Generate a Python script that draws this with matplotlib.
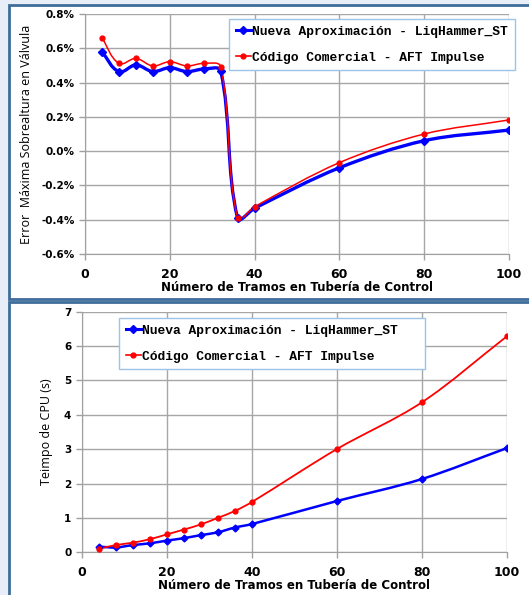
import numpy as np
import matplotlib
matplotlib.use('Agg')
import matplotlib.pyplot as plt
from matplotlib.path import Path
from matplotlib.patches import PathPatch, Rectangle
from matplotlib.lines import Line2D

# error chart data
tramos_err = [4, 8, 12, 16, 20, 24, 28, 32, 36, 40, 60, 80, 100]
err_liq = [0.58, 0.464, 0.503, 0.464, 0.487, 0.464, 0.479, 0.468, -0.392, -0.333, -0.097, 0.061, 0.123]
err_aft = [0.662, 0.512, 0.541, 0.497, 0.522, 0.497, 0.512, 0.493, -0.392, -0.324, -0.067, 0.10, 0.182]

# cpu time data
tramos_cpu = [4, 8, 12, 16, 20, 24, 28, 32, 36, 40, 60, 80, 100]
cpu_liq = [0.165, 0.14, 0.21, 0.26, 0.34, 0.41, 0.50, 0.58, 0.72, 0.82, 1.49, 2.13, 3.03]
cpu_aft = [0.10, 0.21, 0.28, 0.38, 0.52, 0.66, 0.81, 1.00, 1.20, 1.46, 3.00, 4.36, 6.28]

label_liq = 'Nueva Aproximación - LiqHammer_ST'
label_aft = 'Código Comercial - AFT Impulse'

W, H = 529, 595
fig = plt.figure(figsize=(W / 100, H / 100), dpi=100)
fig.patch.set_facecolor('#e8eef7')

border = '#3f6d9b'
# panels (white with blue border)
fig.add_artist(Rectangle((9 / W, 1 - 299 / H), 600 / W, 294 / H, transform=fig.transFigure,
                         facecolor='white', edgecolor=border, lw=2.0, zorder=0))
fig.add_artist(Rectangle((9 / W, 1 - 640 / H), 600 / W, 338 / H, transform=fig.transFigure,
                         facecolor='white', edgecolor=border, lw=2.0, zorder=0))


def smooth_path(ax, x, y, k=0.33):
    # excel-like smoothed line, worked out in screen space then back to data
    pts = ax.transData.transform(np.column_stack([x, y]))
    n = len(pts)
    verts = [pts[0]]
    codes = [Path.MOVETO]
    for i in range(n - 1):
        p0 = pts[i - 1] if i > 0 else pts[i]
        p1 = pts[i]
        p2 = pts[i + 1]
        p3 = pts[i + 2] if i + 2 < n else pts[i + 1]
        L = np.hypot(*(p2 - p1))
        d1 = (p2 - p0) / np.hypot(*(p2 - p0))
        d2 = (p3 - p1) / np.hypot(*(p3 - p1))
        c1 = p1 + d1 * L * k
        c2 = p2 - d2 * L * k
        verts += [c1, c2, p2]
        codes += [Path.CURVE4] * 3
    verts = ax.transData.inverted().transform(np.array(verts))
    return Path(verts, codes)


def draw(ax, x, y, color, lw, marker, ms):
    ax.add_patch(PathPatch(smooth_path(ax, x, y), fill=False, edgecolor=color, lw=lw, zorder=3))
    ax.plot(x, y, linestyle='none', marker=marker, color=color, ms=ms, zorder=4)


def style(ax):
    ax.set_facecolor('none')
    ax.grid(True, color='#a6a6a6', lw=1)
    ax.set_axisbelow(True)
    for s in ['top', 'right']:
        ax.spines[s].set_visible(False)
    for s in ['left', 'bottom']:
        ax.spines[s].set_color('#a0a0a0')
    ax.tick_params(direction='out', length=4, color='#a0a0a0', width=1)
    ax.tick_params(axis='x', pad=6)
    for t in ax.get_yticklabels():
        t.set_fontweight('bold')
        t.set_fontsize(7.5)
    for t in ax.get_xticklabels():
        t.set_fontweight('bold')
        t.set_fontsize(9)
    ax.set_xlabel('Número de Tramos en Tubería de Control', fontsize=8.5, fontweight='bold', labelpad=0)


handles = [Line2D([], [], color='blue', lw=2.2, marker='D', ms=4),
           Line2D([], [], color='red', lw=1.2, marker='o', ms=3.5)]
leg_font = {'family': 'Liberation Mono', 'weight': 'bold', 'size': 9.4}
leg_kw = dict(loc='upper left', prop=leg_font, handlelength=1.2, handletextpad=0.1,
              fancybox=False, framealpha=1, edgecolor='#9dc3e6', labelspacing=1.05,
              borderpad=0.5, borderaxespad=0, bbox_transform=fig.transFigure)

# top chart
ax1 = fig.add_axes([85 / W, 1 - 254 / H, 424 / W, 240 / H])
ax1.set_xlim(0, 100)
ax1.set_xticks(range(0, 101, 20))
ax1.set_ylim(-0.6, 0.8)
ax1.set_yticks(np.arange(-0.6, 0.81, 0.2))
ax1.set_yticklabels(['%.1f%%' % v for v in np.arange(-0.6, 0.81, 0.2)])
draw(ax1, tramos_err, err_liq, 'blue', 2.4, 'D', 4.5)
draw(ax1, tramos_err, err_aft, 'red', 1.1, 'o', 3.5)
style(ax1)
ax1.set_ylabel('Error  Máxima Sobrealtura en Válvula', fontsize=9, family='Open Sans', labelpad=6)
leg1 = ax1.legend(handles, [label_liq, label_aft], bbox_to_anchor=(229 / W, 1 - 19 / H), **leg_kw)
leg1.get_frame().set_linewidth(1)

# bottom chart
ax2 = fig.add_axes([81.7 / W, 1 - 552.3 / H, 425 / W, 240.6 / H])
ax2.set_xlim(0, 100)
ax2.set_xticks(range(0, 101, 20))
ax2.set_ylim(0, 7)
ax2.set_yticks(range(0, 8))
draw(ax2, tramos_cpu, cpu_liq, 'blue', 1.8, 'D', 3.5)
draw(ax2, tramos_cpu, cpu_aft, 'red', 1.3, 'o', 3.5)
style(ax2)
ax2.set_ylabel('Teimpo de CPU (s)', fontsize=9, family='Open Sans', labelpad=8)
leg2 = ax2.legend(handles, [label_liq, label_aft], mode='expand',
                  bbox_to_anchor=(119 / W, 1 - 318 / H, 306 / W, 0), **leg_kw)
leg2.get_frame().set_linewidth(1)

fig.savefig('out.png', dpi=100, facecolor=fig.get_facecolor())
